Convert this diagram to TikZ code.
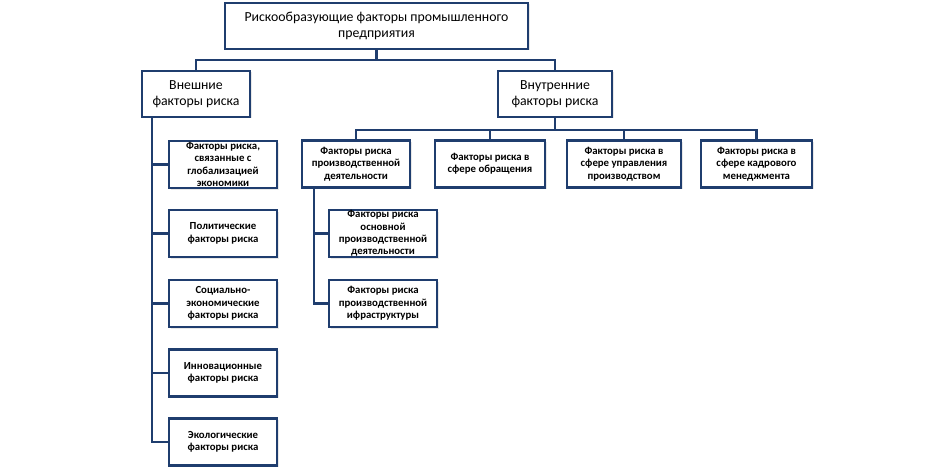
\documentclass[tikz,border=0pt]{standalone}
\usepackage{fontspec}
\setmainfont{Carlito}
\usetikzlibrary{shadows}
\definecolor{navy}{HTML}{1F3D6E}
\begin{document}
\begin{tikzpicture}[x=1pt,y=-1pt,
  box/.style={draw=navy,line width=2.3pt,fill=white,align=center,inner sep=0pt,
    drop shadow={opacity=0.18,shadow xshift=1.5pt,shadow yshift=-1.5pt}},
  big/.style={box,font=\fontsize{13.8}{15.5}\selectfont},
  small/.style={box,font=\bfseries\fontsize{10.8}{12.4}\selectfont,minimum height=47pt},
  conn/.style={draw=navy,line width=2.3pt}]
\useasboundingbox (0,0) rectangle (952,468);
\node[big,minimum width=303pt,minimum height=46pt] (top) at (376.5,26) {Рискообразующие факторы промышленного\\предприятия};
\node[big,minimum width=108pt,minimum height=46pt] (ext) at (196,94) {Внешние\\факторы риска};
\node[big,minimum width=114pt,minimum height=46pt] (int) at (555,94) {Внутренние\\факторы риска};
\node[small,minimum width=108pt] (e1) at (223,164.5) {Факторы риска,\\связанные с\\глобализацией\\экономики};
\node[small,minimum width=108pt] (e2) at (223,233.5) {Политические\\факторы риска};
\node[small,minimum width=108pt] (e3) at (223,303.5) {Социально-\\экономические\\факторы риска};
\node[small,minimum width=108pt] (e4) at (223,373) {Инновационные\\факторы риска};
\node[small,minimum width=108pt] (e5) at (223,442) {Экологические\\факторы риска};
\node[small,minimum width=108pt] (i1) at (356,164) {Факторы риска\\производственной\\деятельности};
\node[small,minimum width=110pt] (i2) at (490,164) {Факторы риска в\\сфере обращения};
\node[small,minimum width=114pt] (i3) at (624,164) {Факторы риска в\\сфере управления\\производством};
\node[small,minimum width=111pt] (i4) at (756.5,164) {Факторы риска в\\сфере кадрового\\менеджмента};
\node[small,minimum width=108pt] (s1) at (383,233.5) {Факторы риска\\основной\\производственной\\деятельности};
\node[small,minimum width=108pt] (s2) at (383,303.5) {Факторы риска\\производственной\\ифраструктуры};
\coordinate (th) at (376.5,60);
\coordinate (ih) at (555,130);
\coordinate (vx) at (152,0);
\coordinate (sx) at (314,0);
\draw[conn] (top.south) -- (th);
\draw[conn] (ext.north) |- (th) -| (int.north);
\draw[conn] (ext.south -| vx) |- (e5.west);
\draw[conn] (ext.south -| vx) |- (e1.west);
\draw[conn] (ext.south -| vx) |- (e2.west);
\draw[conn] (ext.south -| vx) |- (e3.west);
\draw[conn] (ext.south -| vx) |- (e4.west);
\draw[conn] (int.south) -- (ih);
\draw[conn] (i1.north) |- (ih) -| (i4.north);
\draw[conn] (i2.north) -- (i2.north |- ih);
\draw[conn] (i3.north) -- (i3.north |- ih);
\draw[conn] (i1.south -| sx) |- (s2.west);
\draw[conn] (i1.south -| sx) |- (s1.west);
\end{tikzpicture}
\end{document}
